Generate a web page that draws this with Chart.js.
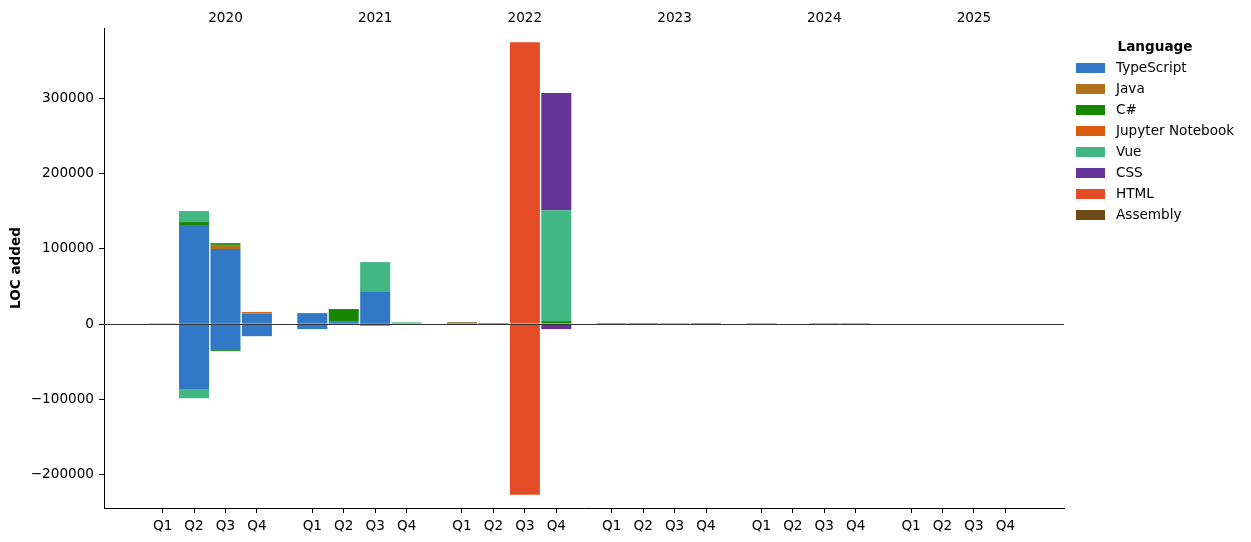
<!DOCTYPE html>
<html>
<head>
<meta charset="utf-8">
<script src="https://cdn.jsdelivr.net/npm/chart.js@4.4.0/dist/chart.umd.min.js"></script>
<style>
  html, body { margin: 0; padding: 0; background: #fff; }
  #wrap { width: 1251px; height: 542px; }
</style>
</head>
<body>
<div id="wrap"><canvas id="c" width="1251" height="542"></canvas></div>
<script>
// ---- data ----
const years = ['2020', '2021', '2022', '2023', '2024', '2025'];
const quarters = ['Q1', 'Q2', 'Q3', 'Q4'];
const languages = ['TypeScript', 'Java', 'C#', 'Jupyter Notebook', 'Vue', 'CSS', 'HTML', 'Assembly'];
const yTickValues = [-200000, -100000, 0, 100000, 200000, 300000];

// 24 quarters: 2020 Q1 .. 2025 Q4
const typescriptAdded   = [0, 131400, 99600, 14200, 14600, 4000, 43800, 900, 900, 1500, 1200, 1000, 1500, 1500, 1300, 1500, 1300, 0, 1300, 1300, 0, 0, 0, 0];
const typescriptRemoved = [0, -86300, -34500, -16000, -6600, -500, -800, -500, -300, -300, -300, 0, -500, -500, 0, 0, 0, 0, 0, 0, 0, 0, 0, 0];
const javaAdded         = [0, 0, 5300, 0, 0, 0, 0, 0, 0, 0, 0, 0, 0, 0, 0, 0, 0, 0, 0, 0, 0, 0, 0, 0];
const javaRemoved       = [0, 0, 0, 0, 0, 0, 0, 0, 0, 0, 0, 0, 0, 0, 0, 0, 0, 0, 0, 0, 0, 0, 0, 0];
const csharpAdded       = [1000, 4000, 1300, 0, 0, 16000, 0, 0, 0, 0, 0, 3000, 0, 0, 0, 0, 0, 0, 0, 0, 0, 0, 0, 0];
const csharpRemoved     = [0, 0, -1300, 0, 0, 0, 0, 0, 0, 0, 0, 0, 0, 0, 0, 0, 0, 0, 0, 0, 0, 0, 0, 0];
const jupyterAdded      = [0, 0, 1500, 1800, 0, 0, 0, 0, 0, 0, 0, 0, 0, 0, 0, 0, 0, 0, 0, 0, 0, 0, 0, 0];
const jupyterRemoved    = [0, 0, 0, 0, 0, 0, 0, 0, 0, 0, 0, 0, 0, 0, 0, 0, 0, 0, 0, 0, 0, 0, 0, 0];
const vueAdded          = [0, 14600, 0, 0, 0, 0, 38500, 1500, 0, 0, 0, 147300, 0, 0, 0, 0, 0, 0, 0, 0, 0, 0, 0, 0];
const vueRemoved        = [0, -12000, 0, 0, 0, 0, -1500, 0, 0, 0, 0, 0, 0, 0, 0, 0, 0, 0, 0, 0, 0, 0, 0, 0];
const cssAdded          = [0, 0, 0, 0, 0, 0, 0, 0, 0, 0, 0, 155300, 0, 0, 0, 0, 0, 0, 0, 0, 0, 0, 0, 0];
const cssRemoved        = [0, 0, 0, 0, 0, 0, 0, 0, 0, 0, 0, -6600, 0, 0, 0, 0, 0, 0, 0, 0, 0, 0, 0, 0];
const htmlAdded         = [0, 0, 0, 0, 0, 0, 0, 0, 0, 0, 373000, 0, 0, 0, 0, 0, 0, 0, 0, 0, 0, 0, 0, 0];
const htmlRemoved       = [0, 0, 0, 0, 0, 0, 0, 0, 0, 0, -226000, 0, 0, 0, 0, 0, 0, 0, 0, 0, 0, 0, 0, 0];
const assemblyAdded     = [0, 0, 0, 0, 0, 0, 0, 0, 1500, 0, 0, 0, 0, 0, 0, 0, 0, 0, 0, 0, 0, 0, 0, 0];
const assemblyRemoved   = [0, 0, 0, 0, 0, 0, 0, 0, 0, 0, 0, 0, 0, 0, 0, 0, 0, 0, 0, 0, 0, 0, 0, 0];

// ---- styles ----
const languageColors = ['#3178c6', '#b07219', '#178600', '#da5b0b', '#41b883', '#663399', '#e34c26', '#6e4c13'];

// ---- build ----
const addedSeries = [typescriptAdded, javaAdded, csharpAdded, jupyterAdded, vueAdded, cssAdded, htmlAdded, assemblyAdded];
const removedSeries = [typescriptRemoved, javaRemoved, csharpRemoved, jupyterRemoved, vueRemoved, cssRemoved, htmlRemoved, assemblyRemoved];

const QSTEP = 0.21;
const positions = [];
const quarterLabels = [];
years.forEach((y, yi) => {
  quarters.forEach((q, qi) => {
    positions.push(yi + (qi - 2) * QSTEP);
    quarterLabels.push(q);
  });
});
const yearPositions = years.map((y, yi) => yi);

function toPoints(arr) {
  return arr.map((v, i) => ({ x: positions[i], y: v === 0 ? null : v }));
}

const datasets = [];
languages.forEach((lang, li) => {
  datasets.push({ label: lang, data: toPoints(addedSeries[li]), backgroundColor: languageColors[li], stack: 's' });
});
languages.forEach((lang, li) => {
  datasets.push({ label: lang + ' (removed)', data: toPoints(removedSeries[li]), backgroundColor: languageColors[li], stack: 's' });
});

const FONT = 'DejaVu Sans';
const FS = 13.6;
Chart.defaults.font.family = FONT;
Chart.defaults.font.size = FS;
Chart.defaults.color = '#000';

const XMIN = -0.8115, XMAX = 5.6015;

const zeroLine = {
  id: 'zeroLine',
  afterDatasetsDraw(chart) {
    const { ctx, chartArea, scales } = chart;
    const y = Math.round(scales.y.getPixelForValue(0)) + 0.5;
    ctx.save();
    ctx.strokeStyle = '#333';
    ctx.lineWidth = 1.1;
    ctx.beginPath();
    ctx.moveTo(chartArea.left, y);
    ctx.lineTo(chartArea.right, y);
    ctx.stroke();
    ctx.restore();
  }
};

const customLegend = {
  id: 'customLegend',
  afterDraw(chart) {
    const ctx = chart.ctx;
    ctx.save();
    ctx.textBaseline = 'middle';
    ctx.font = 'bold ' + FS + 'px "' + FONT + '"';
    ctx.fillStyle = '#000';
    ctx.textAlign = 'center';
    ctx.fillText('Language', 1155, 47.5);
    ctx.font = FS + 'px "' + FONT + '"';
    ctx.textAlign = 'left';
    languages.forEach((lang, i) => {
      const cy = 68 + i * 21;
      ctx.fillStyle = languageColors[i];
      ctx.fillRect(1076, cy - 5, 29, 10);
      ctx.fillStyle = '#000';
      ctx.fillText(lang, 1116, cy + 0.5);
    });
    ctx.restore();
  }
};

new Chart(document.getElementById('c'), {
  type: 'bar',
  data: { datasets },
  options: {
    responsive: false,
    animation: false,
    devicePixelRatio: 1,
    layout: { padding: { left: 0, right: 187, top: 0, bottom: 0 } },
    categoryPercentage: 1,
    barPercentage: 0.955,
    plugins: { legend: { display: false }, tooltip: { enabled: false } },
    scales: {
      x: {
        type: 'linear',
        position: 'bottom',
        stacked: true,
        offset: false,
        min: XMIN,
        max: XMAX,
        grid: { offset: false, drawOnChartArea: false, drawTicks: true, tickLength: 5, tickColor: '#000' },
        border: { display: true, color: '#000', width: 1 },
        afterBuildTicks(scale) { scale.ticks = positions.map(v => ({ value: v })); },
        afterFit(scale) { scale.height = 34; },
        ticks: {
          autoSkip: false, maxRotation: 0, minRotation: 0, padding: 5, color: '#000',
          callback: (v, i) => quarterLabels[i]
        }
      },
      xTop: {
        type: 'linear',
        position: 'top',
        offset: false,
        min: XMIN,
        max: XMAX,
        grid: { display: false, offset: false, drawTicks: false, tickLength: 0 },
        border: { display: false },
        afterBuildTicks(scale) { scale.ticks = yearPositions.map(v => ({ value: v })); },
        afterFit(scale) { scale.height = 28; },
        ticks: {
          autoSkip: false, maxRotation: 0, minRotation: 0, padding: 1, color: '#000',
          callback: (v, i) => years[i]
        }
      },
      y: {
        type: 'linear',
        stacked: true,
        min: -244000,
        max: 393000,
        grid: { drawOnChartArea: false, drawTicks: true, tickLength: 5, tickColor: '#000' },
        border: { display: true, color: '#000', width: 1 },
        afterBuildTicks(scale) { scale.ticks = yTickValues.map(v => ({ value: v })); },
        afterFit(scale) { scale.width = 104; },
        ticks: {
          padding: 5, color: '#000',
          callback: (v) => v < 0 ? '\u2212' + Math.abs(v) : String(v)
        },
        title: {
          display: true, text: 'LOC added', color: '#000',
          font: { family: FONT, size: FS, weight: 'bold' },
          padding: { top: 8, bottom: 0 }
        }
      }
    }
  },
  plugins: [zeroLine, customLegend]
});
</script>
</body>
</html>
